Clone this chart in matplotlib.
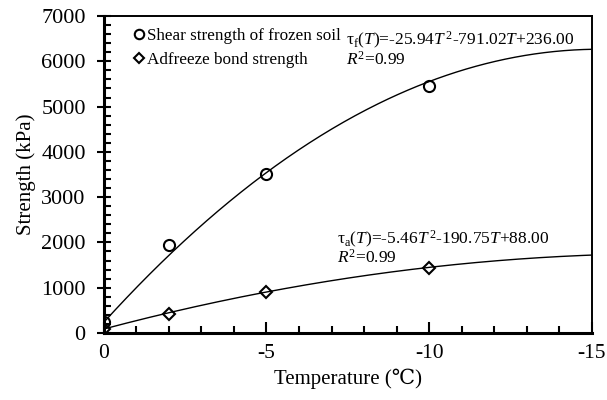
import numpy as np
import matplotlib
matplotlib.use("Agg")
import matplotlib.pyplot as plt
from matplotlib.ticker import MultipleLocator

plt.rcParams['font.family'] = ['Liberation Serif', 'DejaVu Serif']
plt.rcParams['mathtext.fontset'] = 'custom'
plt.rcParams['mathtext.rm'] = 'Liberation Serif'
plt.rcParams['mathtext.it'] = 'Liberation Serif:italic'
plt.rcParams['mathtext.bf'] = 'Liberation Serif:bold'

# Data
temps = [0, -2, -5, -10]
shear = [243, 1936, 3515, 5447]
adfreeze = [97, 428, 899, 1440]
# Fit coefficients (a, b, c) for a*T^2 + b*T + c, as printed on the chart
shear_fit = (-25.94, -791.02, 236.00)
adfreeze_fit = (-5.46, -190.75, 88.00)
xticks = [0, -5, -10, -15]
yticks = [0, 1000, 2000, 3000, 4000, 5000, 6000, 7000]

fig = plt.figure(figsize=(6.07, 4.0), dpi=100)
ax = fig.add_axes([0.171, 0.1675, 0.804, 0.7925])

T = np.linspace(0, -15, 300)
for (a, b, c) in (shear_fit, adfreeze_fit):
    ax.plot(T, a * T**2 + b * T + c, color='black', lw=1.0, zorder=2)

ax.plot(temps, shear, linestyle='none', marker='o', markersize=8,
        markerfacecolor='none', markeredgecolor='black', markeredgewidth=1.5,
        label='Shear strength of frozen soil', zorder=3)
ax.plot(temps, adfreeze, linestyle='none', marker='D', markersize=6,
        markerfacecolor='none', markeredgecolor='black', markeredgewidth=1.5,
        label='Adfreeze bond strength', zorder=3)

ax.set_xlim(0, -15)
ax.set_ylim(0, 7000)
ax.set_xticks(xticks)
ax.set_xticklabels([str(v) for v in xticks])
ax.set_yticks(yticks)
ax.xaxis.set_minor_locator(MultipleLocator(1))
ax.yaxis.set_minor_locator(MultipleLocator(200))
ax.tick_params(axis='x', which='major', direction='in', length=8, width=1.5,
               labelsize=15.5, pad=8, top=False)
ax.tick_params(axis='x', which='minor', direction='in', length=5, width=1.5, top=False)
ax.tick_params(axis='y', which='major', direction='inout', length=10, width=1.5,
               labelsize=16, pad=8, right=False)
ax.tick_params(axis='y', which='minor', direction='in', length=5, width=1.5, right=False)

for s in ('left', 'bottom'):
    ax.spines[s].set_linewidth(2.2)
for s in ('top', 'right'):
    ax.spines[s].set_linewidth(1.4)

ax.set_xlabel('Temperature (\u2103)', fontsize=15, labelpad=4)
ax.set_ylabel('Strength (kPa)', fontsize=15, labelpad=4)

ax.legend(loc='upper left', frameon=False, fontsize=12.3, handletextpad=0.0,
          handlelength=1.0, borderaxespad=0.3, labelspacing=0.45,
          bbox_to_anchor=(0.03, 1.0), markerscale=0.85)

ax.text(0.497, 0.955,
        '\u03c4' + r'$_{\rm f}$($T$)=-25.94$T^{\,2}$-791.02$T$+236.00' + '\n' + r'$R^{2}$=0.99',
        transform=ax.transAxes, fontsize=12.5, va='top', ha='left', linespacing=0.95)
ax.text(0.477, 0.33,
        '\u03c4' + r'$_{\rm a}$($T$)=-5.46$T^{\,2}$-190.75$T$+88.00' + '\n' + r'$R^{2}$=0.99',
        transform=ax.transAxes, fontsize=12.5, va='top', ha='left', linespacing=0.95)

fig.savefig('out.png', dpi=100)
